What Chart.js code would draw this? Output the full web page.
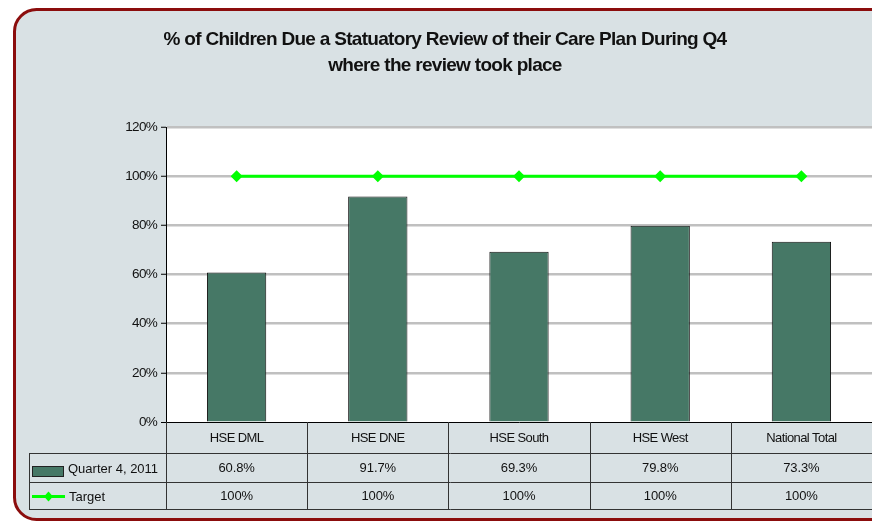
<!DOCTYPE html>
<html>
<head>
<meta charset="utf-8">
<script src="https://cdn.jsdelivr.net/npm/chart.js@4/dist/chart.umd.min.js"></script>
<style>
  html, body { margin: 0; padding: 0; background: #ffffff; }
  #wrap { width: 872px; height: 521px; }
</style>
</head>
<body>
<div id="wrap"><canvas id="reviewChart" width="872" height="521"></canvas></div>
<script>
const categories = ['HSE DML', 'HSE DNE', 'HSE South', 'HSE West', 'National Total'];
const quarterValues = [60.8, 91.7, 69.3, 79.8, 73.3];
const targetValues = [100, 100, 100, 100, 100];
const yTicks = [0, 20, 40, 60, 80, 100, 120];

const barColor = '#467866';
const targetColor = '#00ff00';

Chart.defaults.font.family = '"Liberation Sans", Arial, sans-serif';
Chart.defaults.color = '#111111';

// frame + white plot area behind everything
const framePlugin = {
  id: 'frame',
  beforeDraw(chart) {
    const ctx = chart.ctx;
    const a = chart.chartArea;
    ctx.save();
    ctx.fillStyle = '#ffffff';
    ctx.fillRect(0, 0, chart.width, chart.height);
    ctx.beginPath();
    ctx.roundRect(14.5, 9.5, 920, 510, 22);
    ctx.fillStyle = '#d9e1e4';
    ctx.fill();
    ctx.lineWidth = 3;
    ctx.strokeStyle = '#8b0d0d';
    ctx.stroke();
    ctx.fillStyle = '#ffffff';
    ctx.fillRect(a.left, a.top, a.right - a.left, a.bottom - a.top);
    ctx.restore();
    ctx.letterSpacing = '-0.7px';
  }
};

// data table under the plot (category names, values, legend keys)
const tablePlugin = {
  id: 'dataTable',
  afterDraw(chart) {
    const ctx = chart.ctx;
    const a = chart.chartArea;
    const xs = chart.scales.x;
    const colW = (a.right - a.left) / categories.length;
    const y0 = a.bottom, y1 = y0 + 31, y2 = y0 + 60, y3 = y0 + 87;
    const legLeft = 29;
    const barSet = chart.data.datasets.find(d => d.type === 'bar');
    const lineSet = chart.data.datasets.find(d => d.type === 'line');

    ctx.save();
    ctx.strokeStyle = '#333333';
    ctx.lineWidth = 1;
    ctx.beginPath();
    [y1, y2, y3].forEach(y => {
      ctx.moveTo(legLeft, y + 0.5);
      ctx.lineTo(a.right, y + 0.5);
    });
    for (let i = 0; i <= categories.length; i++) {
      const cx = Math.round(a.left + i * colW) + 0.5;
      ctx.moveTo(cx, y0);
      ctx.lineTo(cx, y3);
    }
    ctx.moveTo(legLeft + 0.5, y1);
    ctx.lineTo(legLeft + 0.5, y3);
    ctx.stroke();

    ctx.font = '13px "Liberation Sans", Arial, sans-serif';
    ctx.fillStyle = '#111111';
    ctx.textBaseline = 'middle';
    ctx.textAlign = 'center';
    categories.forEach((c, i) => {
      const cx = xs.getPixelForValue(i);
      ctx.letterSpacing = '-0.6px';
      ctx.fillText(c, cx, (y0 + y1) / 2 + 1);
      ctx.letterSpacing = '-0.1px';
      ctx.fillText(barSet.data[i].toFixed(1) + '%', cx, (y1 + y2) / 2 + 1);
      ctx.fillText(lineSet.data[i] + '%', cx, (y2 + y3) / 2 + 1);
    });

    // legend keys
    ctx.fillStyle = barColor;
    ctx.fillRect(32, y1 + 13, 31, 10);
    ctx.strokeStyle = '#222222';
    ctx.strokeRect(32.5, y1 + 13.5, 31, 10);
    ctx.fillStyle = '#111111';
    ctx.textAlign = 'left';
    ctx.letterSpacing = '0px';
    ctx.fillText(barSet.label, 68, (y1 + y2) / 2 + 2);

    const ly = (y2 + y3) / 2 + 1;
    ctx.strokeStyle = targetColor;
    ctx.lineWidth = 3;
    ctx.beginPath();
    ctx.moveTo(32, ly);
    ctx.lineTo(65, ly);
    ctx.stroke();
    ctx.fillStyle = targetColor;
    ctx.beginPath();
    ctx.moveTo(48.5, ly - 5);
    ctx.lineTo(53, ly);
    ctx.lineTo(48.5, ly + 5);
    ctx.lineTo(44, ly);
    ctx.closePath();
    ctx.fill();
    ctx.fillStyle = '#111111';
    ctx.fillText(lineSet.label, 69, ly + 1);
    ctx.restore();
  }
};

new Chart(document.getElementById('reviewChart'), {
  type: 'bar',
  data: {
    labels: categories,
    datasets: [
      {
        type: 'line',
        label: 'Target',
        data: targetValues,
        borderColor: targetColor,
        backgroundColor: targetColor,
        borderWidth: 3,
        pointStyle: 'rectRot',
        pointRadius: 6,
        pointBackgroundColor: targetColor,
        pointBorderWidth: 0,
        order: 0
      },
      {
        type: 'bar',
        label: 'Quarter 4, 2011',
        data: quarterValues,
        backgroundColor: barColor,
        borderColor: '#111111',
        borderWidth: 1,
        barPercentage: 0.42,
        categoryPercentage: 1,
        order: 1
      }
    ]
  },
  options: {
    responsive: false,
    devicePixelRatio: 1,
    animation: false,
    layout: { autoPadding: false, padding: { left: 18, right: 0, top: 0, bottom: 99 } },
    plugins: {
      legend: { display: false },
      tooltip: { enabled: false },
      title: {
        display: true,
        text: ['% of Children Due a Statuatory Review of their Care Plan During Q4', 'where the review took place'],
        color: '#111111',
        font: { size: 19, weight: 'bold', lineHeight: 1.37 },
        padding: { top: 27, bottom: 48 }
      }
    },
    scales: {
      x: { display: false },
      y: {
        min: 0,
        max: 120,
        afterBuildTicks: s => { s.ticks = yTicks.map(v => ({ value: v })); },
        afterFit: s => { s.width = 148; },
        ticks: {
          callback: v => v + '%',
          font: { size: 13.5 },
          color: '#111111',
          padding: 4
        },
        grid: {
          color: c => c.tick && c.tick.value === 0 ? '#000000' : '#c0c0c0',
          lineWidth: c => c.tick && c.tick.value === 0 ? 1 : 2.5,
          tickColor: '#000000',
          tickWidth: 1,
          tickLength: 5
        },
        border: { display: true, color: '#000000', width: 1 }
      }
    }
  },
  plugins: [framePlugin, tablePlugin]
});
</script>
</body>
</html>
